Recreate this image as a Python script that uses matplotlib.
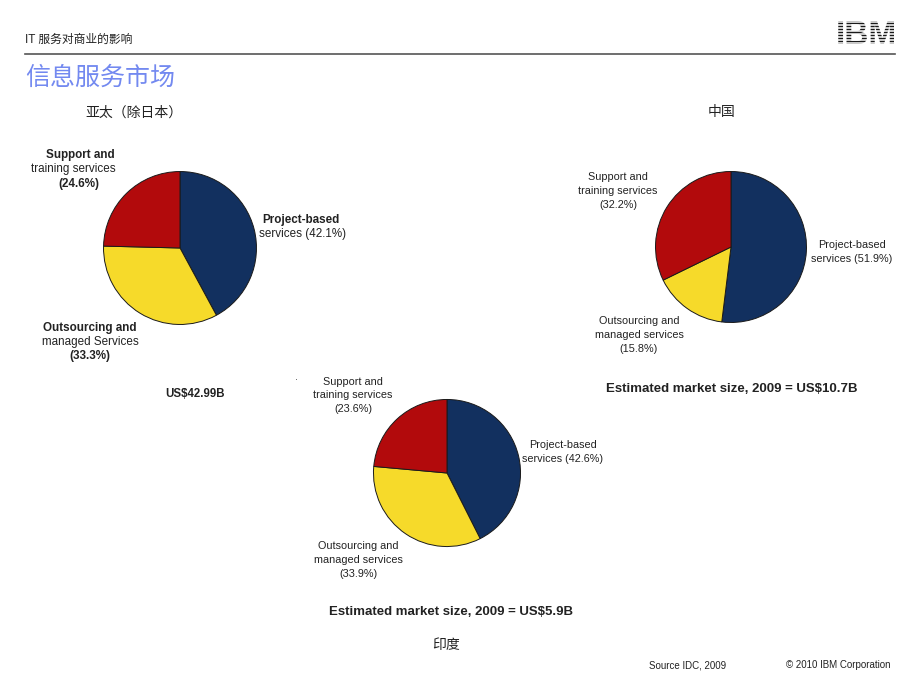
import matplotlib
matplotlib.use("Agg")
import matplotlib.pyplot as plt

plt.rcParams['font.family'] = ['Liberation Sans', 'Noto Sans CJK SC', 'DejaVu Sans']

W, H = 920, 690
categories = ["Project-based services", "Outsourcing and managed services", "Support and training services"]
colors = ["#12305f", "#f6da2a", "#b20a0c"]

apac_values = [42.1, 33.3, 24.6]
china_values = [51.9, 15.8, 32.2]
india_values = [42.6, 33.9, 23.6]

apac_size = "US$42.99B"
china_size = "Estimated market size, 2009 = US$10.7B"
india_size = "Estimated market size, 2009 = US$5.9B"

fig = plt.figure(figsize=(W / 100, H / 100), dpi=100)
fig.patch.set_facecolor("white")


def fx(x):
    return x / W


def fy(y):
    return 1 - y / H


def txt(x, y, s, size=7.8, weight="normal", ha="center", color="#222222", family=None, zorder=3):
    kw = {}
    if family:
        kw["family"] = family
    fig.text(fx(x), fy(y), s, fontsize=size, fontweight=weight, ha=ha, va="center", color=color,
             zorder=zorder, **kw)


def pie(cx, cy, r, values):
    ax = fig.add_axes([fx(cx - r), fy(cy + r), 2 * r / W, 2 * r / H])
    ax.pie(values, colors=colors, startangle=90, counterclock=False, radius=1,
           wedgeprops=dict(edgecolor="#1a1a1a", linewidth=0.7))
    ax.set_xlim(-1.02, 1.02)
    ax.set_ylim(-1.02, 1.02)
    ax.set_aspect("equal")
    ax.axis("off")


# header
cjk = ['Noto Sans CJK SC', 'DejaVu Sans']
txt(25, 40, "IT 服务对商业的影响", size=8.5, ha="left", color="#222222", family=['Liberation Sans', 'Noto Sans CJK SC'])
fig.add_artist(plt.Line2D([fx(25), fx(895)], [fy(54), fy(54)], color="#555555", linewidth=1.2))
txt(866, 35, "IBM", size=24, weight="bold", color="#1a1a1a", family=['Liberation Sans'])
for yy in range(22, 50, 3):
    fig.add_artist(plt.Line2D([fx(828), fx(902)], [fy(yy), fy(yy)], color="white", linewidth=1.1, zorder=6))
txt(25, 78, "信息服务市场", size=18, ha="left", color="#7389f0", family=cjk)

# APAC
txt(134, 113, "亚太（除日本）", size=10, family=cjk)
pie(180, 248, 78, apac_values)
s1 = 8.4
txt(80, 155, "Support and", size=s1, weight="bold")
txt(73, 169, "training services", size=s1)
txt(79, 184, "(24.6%)", size=s1, weight="bold")
txt(301, 220, "Project-based", size=s1, weight="bold")
txt(303, 234, "services (42.1%)", size=s1)
txt(90, 328, "Outsourcing and", size=s1, weight="bold")
txt(90, 342, "managed Services", size=s1)
txt(90, 356, "(33.3%)", size=s1, weight="bold")
txt(195, 394, apac_size, size=8.3, weight="bold")

# China
txt(722, 112, "中国", size=10, family=cjk)
pie(731, 247, 77, china_values)
txt(618, 177, "Support and")
txt(618, 191, "training services")
txt(618, 205, "(32.2%)")
txt(852, 245, "Project-based")
txt(852, 259, "services (51.9%)")
txt(639, 321, "Outsourcing and")
txt(639, 335, "managed services")
txt(639, 349, "(15.8%)")
txt(732, 389, china_size, size=9.5, weight="bold")

# India
pie(447, 473, 75, india_values)
txt(296, 381, "·", size=6)
txt(353, 382, "Support and")
txt(353, 395, "training services")
txt(353, 409, "(23.6%)")
txt(563, 445, "Project-based")
txt(563, 459, "services (42.6%)")
txt(358, 546, "Outsourcing and")
txt(358, 560, "managed services")
txt(358, 574, "(33.9%)")
txt(451, 612, india_size, size=9.5, weight="bold")
txt(446, 645, "印度", size=10, family=cjk)

# footer
txt(688, 665, "Source IDC, 2009", size=7)
txt(838, 665, "© 2010 IBM Corporation", size=7)

fig.savefig("out.png", dpi=100)
